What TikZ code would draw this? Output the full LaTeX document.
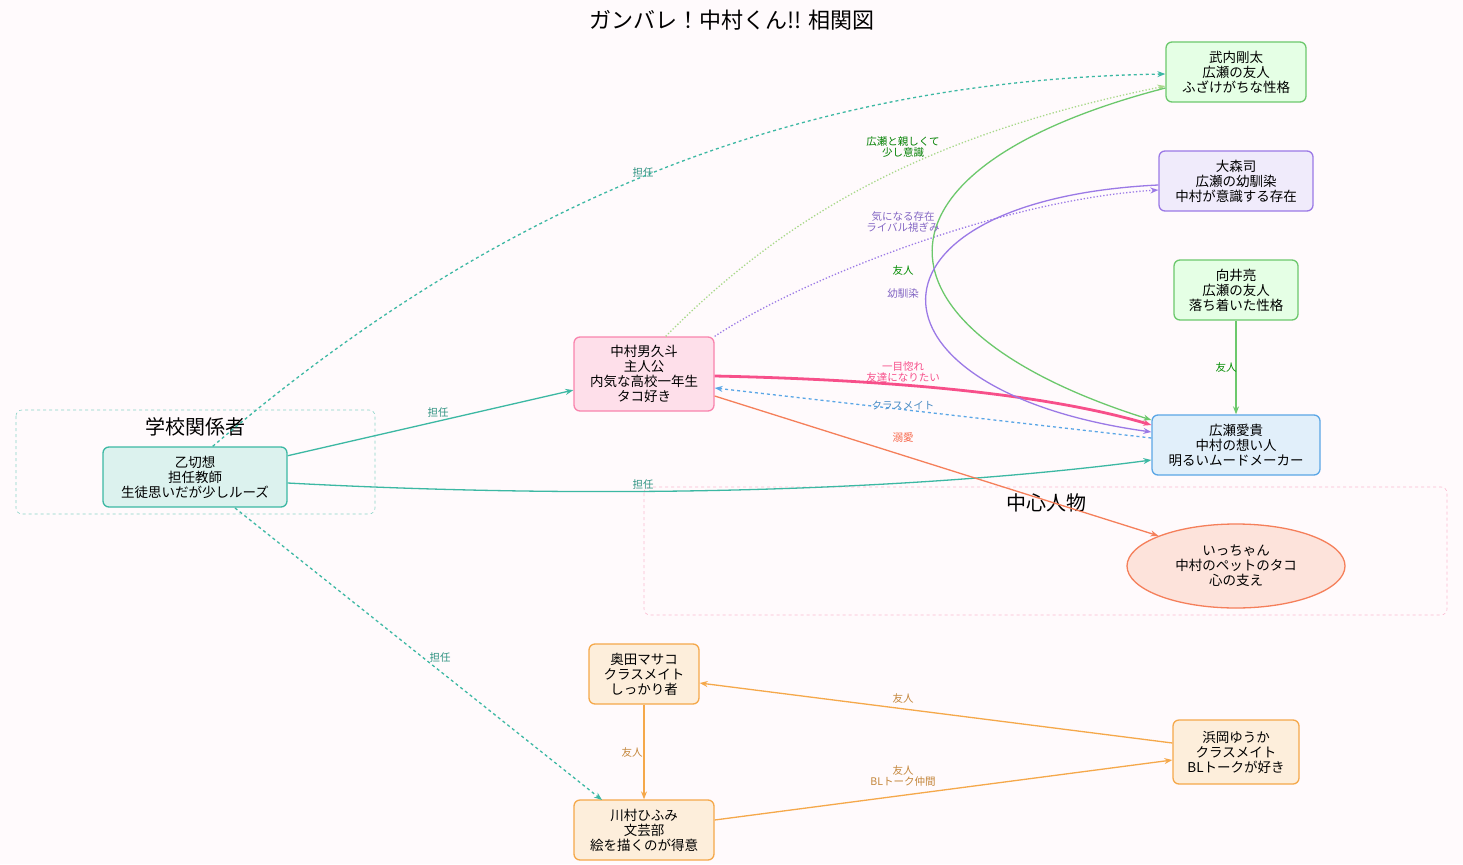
\documentclass[tikz,border=0pt]{standalone}
\usepackage{fontspec}
\setmainfont{Noto Sans CJK JP}
\usetikzlibrary{arrows.meta, shapes.geometric}
\definecolor{bgc}{HTML}{FFFAFC}
\definecolor{tealc}{HTML}{3CB8A3}
\definecolor{greenc}{HTML}{6CC86C}
\definecolor{lgreenc}{HTML}{A8D88A}
\definecolor{purc}{HTML}{9B79E6}
\definecolor{bluec}{HTML}{5AA6E6}
\definecolor{pinkc}{HTML}{F74F8A}
\definecolor{orac}{HTML}{F57F5A}
\definecolor{yelc}{HTML}{F5A84A}
\begin{document}
\begin{tikzpicture}[x=1pt,y=-1pt,
    PN/.style args = {#1/#2/#3}{
                    draw=#1, fill=#2, rounded corners=6pt, line width=1.3pt,
                    minimum width=#3, minimum height=60pt, inner sep=2pt,
                    align=center, font=\fontsize{13.5}{15}\selectfont},
    lab/.style = {font=\fontsize{10.5}{11.5}\selectfont, align=center, text=#1},
    rel/.style = {draw=#1, line width=1.3pt, -{Stealth[length=8pt,width=6pt]}},
    grp/.style = {draw=#1, dashed, rounded corners=6pt, line width=0.6pt}]
%---
\fill[bgc] (0,0) rectangle (1463,864);
\useasboundingbox (0,0) rectangle (1463,864);
\node (title) at (732,20) {\fontsize{22}{24}\selectfont ガンバレ！中村くん!! 相関図};
% clusters
\draw[grp=tealc!60] (16,410) rectangle (375,514);
\node (g1) at (195,427) {\fontsize{20}{22}\selectfont 学校関係者};
\draw[grp=pinkc!40] (644,487) rectangle (1447,615);
\node (g2) at (1046,503) {\fontsize{20}{22}\selectfont 中心人物};
% nodes
\node (take) [PN=greenc/green!10/140pt]   at (1236,72)  {武内剛太\\広瀬の友人\\ふざけがちな性格};
\node (omor) [PN=purc/purc!15/154pt]      at (1236,181) {大森司\\広瀬の幼馴染\\中村が意識する存在};
\node (muka) [PN=greenc/green!10/124pt]   at (1236,290) {向井亮\\広瀬の友人\\落ち着いた性格};
\node (hiro) [PN=bluec/bluec!18/168pt]    at (1236,445) {広瀬愛貴\\中村の想い人\\明るいムードメーカー};
\node (naka) [PN=pinkc!70/pinkc!18/140pt, minimum height=74pt] at (644,374) {中村男久斗\\主人公\\内気な高校一年生\\タコ好き};
\node (icch) [ellipse, draw=orac, fill=orac!22, line width=1.3pt, minimum width=218pt,
              minimum height=84pt, inner sep=1pt, align=center,
              font=\fontsize{13.5}{15}\selectfont] at (1236,566) {いっちゃん\\中村のペットのタコ\\心の支え};
\node (otok) [PN=tealc/tealc!18/184pt]    at (195,477)  {乙切想\\担任教師\\生徒思いだが少しルーズ};
\node (okud) [PN=yelc/yelc!20/110pt]      at (644,674)  {奥田マサコ\\クラスメイト\\しっかり者};
\node (kawa) [PN=yelc/yelc!20/140pt]      at (644,830)  {川村ひふみ\\文芸部\\絵を描くのが得意};
\node (hama) [PN=yelc/yelc!20/126pt, minimum height=64pt] at (1236,752) {浜岡ゆうか\\クラスメイト\\BLトークが好き};
% lines
\draw[rel=tealc, dashed] (otok.60) .. controls (500,200) and (800,80) .. (take.west |- 0,74);
\draw[rel=tealc] (otok) -- (naka);
\draw[rel=tealc] (otok.east |- 0,483) .. controls (700,505) and (1000,480) .. (hiro.west |- 0,460);
\draw[rel=tealc, dashed] (otok.south |- 0,508) ++(40,0) -- (602,800);
\draw[rel=lgreenc, dotted] (naka.60) .. controls (800,200) and (950,130) .. (take.west |- 0,86);
\draw[rel=purc, dotted] (naka.north east) .. controls (800,280) and (1000,200) .. (omor.west |- 0,190);
\draw[rel=pinkc, line width=2.8pt] (naka.east |- 0,376) .. controls (900,380) and (1050,395) .. (hiro.west |- 0,425);
\draw[rel=bluec, dashed] (hiro.west |- 0,438) -- (naka.east |- 0,388);
\draw[rel=orac] (naka.east |- 0,396) -- (icch.north west);
\draw[rel=greenc] (take.west |- 0,88) .. controls (850,170) and (865,330) .. (hiro.west |- 0,420);
\draw[rel=purc] (omor.west |- 0,185) .. controls (850,200) and (850,390) .. (hiro.west |- 0,432);
\draw[rel=greenc] (muka) -- (hiro);
\draw[rel=yelc] (okud) -- (kawa);
\draw[rel=yelc] (kawa.east |- 0,820) -- (hama.west |- 0,760);
\draw[rel=yelc] (hama.west |- 0,743) -- (okud.east |- 0,683);
% labels
\node[lab=tealc!80!black] (l1) at (643,173) {担任};
\node[lab=tealc!80!black] (l2) at (438,413) {担任};
\node[lab=tealc!80!black] (l3) at (643,485) {担任};
\node[lab=tealc!80!black] (l4) at (440,658) {担任};
\node[lab=green!50!black] (l5) at (903,147) {広瀬と親しくて\\少し意識};
\node[lab=purc!85!black] (l6) at (903,222) {気になる存在\\ライバル視ぎみ};
\node[lab=green!55!black] (l7) at (903,271) {友人};
\node[lab=purc!85!black] (l8) at (903,294) {幼馴染};
\node[lab=pinkc] (l9) at (903,372) {一目惚れ\\友達になりたい};
\node[lab=bluec!85!black] (l10) at (903,405) {クラスメイト};
\node[lab=orac!80!red] (l11) at (903,438) {溺愛};
\node[lab=green!55!black] (l12) at (1226,368) {友人};
\node[lab=yelc!80!black] (l13) at (632,752) {友人};
\node[lab=yelc!80!black] (l14) at (903,776) {友人\\BLトーク仲間};
\node[lab=yelc!80!black] (l15) at (903,698) {友人};
\end{tikzpicture}
\end{document}
